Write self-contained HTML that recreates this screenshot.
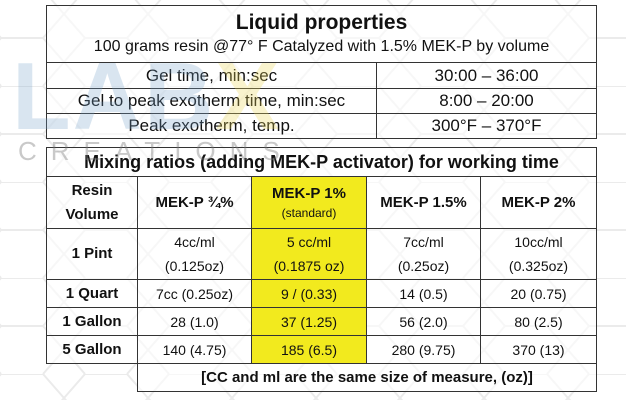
<!DOCTYPE html>
<html><head><meta charset="utf-8"><style>
*{margin:0;padding:0;box-sizing:border-box}
body{width:626px;height:400px;overflow:hidden;background:#fff;position:relative;font-family:"Liberation Sans",sans-serif;color:#111}
.bg{position:absolute;left:0;top:0}
.wm{position:absolute;font-weight:bold;z-index:2;pointer-events:none}
table{position:absolute;border-collapse:collapse;background:transparent;z-index:1;table-layout:fixed}
td{border:1.5px solid #333;text-align:center;vertical-align:middle;padding:0;background:rgba(255,255,255,0.6)}
.y{background:#f2ea1e}
.b{font-weight:bold}
</style></head><body>
<svg class="bg" width="626" height="400">
<defs><pattern id="hx" width="84" height="96" patternUnits="userSpaceOnUse" x="-20" y="-10">
<path d="M21 0 L63 0 L84 24 L63 48 L21 48 L0 24 Z M21 48 L0 72 L21 96 M63 48 L84 72 L63 96" fill="none" stroke="#ebebeb" stroke-width="2"/>
</pattern></defs>
<rect width="626" height="400" fill="url(#hx)"/>
</svg>
<div class="wm" style="left:12px;top:42px;font-size:96px;color:rgba(120,160,200,0.28);letter-spacing:2px">LAB<span style="color:rgba(235,215,90,0.3)">X</span></div>
<div class="wm" style="left:18px;top:136px;font-size:26px;font-weight:normal;color:rgba(120,120,120,0.4);letter-spacing:14px">CREATIONS</div>

<table style="left:46px;top:5px;width:550px">
<colgroup><col style="width:330px"><col style="width:220px"></colgroup>
<tr style="height:57px"><td colspan="2"><div class="b" style="font-size:21px;line-height:26px">Liquid properties</div><div style="font-size:16px;line-height:22px">100 grams resin @77° F Catalyzed with 1.5% MEK-P by volume</div></td></tr>
<tr style="height:26px;font-size:17px"><td>Gel time, min:sec</td><td>30:00 – 36:00</td></tr>
<tr style="height:25px;font-size:17px"><td>Gel to peak exotherm time, min:sec</td><td>8:00 – 20:00</td></tr>
<tr style="height:25px;font-size:17px"><td>Peak exotherm, temp.</td><td>300°F – 370°F</td></tr>
</table>

<table style="left:46px;top:147px;width:550px">
<colgroup><col style="width:91px"><col style="width:114px"><col style="width:115px"><col style="width:114px"><col style="width:116px"></colgroup>
<tr style="height:29px"><td colspan="5" class="b" style="font-size:18px">Mixing ratios (adding MEK-P activator) for working time</td></tr>
<tr style="height:52px" class="b"><td style="font-size:15px;line-height:24px">Resin<br>Volume</td><td style="font-size:15px">MEK-P ¾%</td><td class="y"><div style="font-size:15px">MEK-P 1%</div><div style="font-size:12px;font-weight:normal;margin-top:4px">(standard)</div></td><td style="font-size:15px">MEK-P 1.5%</td><td style="font-size:15px">MEK-P 2%</td></tr>
<tr style="height:51px;font-size:14px;line-height:24px"><td class="b" style="font-size:15px">1 Pint</td><td>4cc/ml<br>(0.125oz)</td><td class="y">5 cc/ml<br>(0.1875 oz)</td><td>7cc/ml<br>(0.25oz)</td><td>10cc/ml<br>(0.325oz)</td></tr>
<tr style="height:28px;font-size:14px"><td class="b" style="font-size:15px">1 Quart</td><td>7cc (0.25oz)</td><td class="y">9 / (0.33)</td><td>14 (0.5)</td><td>20 (0.75)</td></tr>
<tr style="height:28px;font-size:14px"><td class="b" style="font-size:15px">1 Gallon</td><td>28 (1.0)</td><td class="y">37 (1.25)</td><td>56 (2.0)</td><td>80 (2.5)</td></tr>
<tr style="height:28px;font-size:14px"><td class="b" style="font-size:15px">5 Gallon</td><td>140 (4.75)</td><td class="y">185 (6.5)</td><td>280 (9.75)</td><td>370 (13)</td></tr>
<tr style="height:28px"><td style="border:none;background:transparent"></td><td colspan="4" class="b" style="font-size:15px">[CC and ml are the same size of measure, (oz)]</td></tr>
</table>
</body></html>
